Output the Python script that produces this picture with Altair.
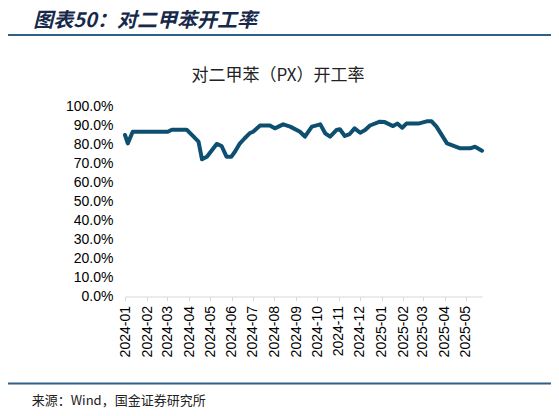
import altair as alt
import pandas as pd

# ---- data ----
dates = [
    "2024-01-01", "2024-01-05", "2024-01-12", "2024-03-02", "2024-03-08", "2024-03-29",
    "2024-04-08", "2024-04-15", "2024-04-20", "2024-04-27", "2024-05-11", "2024-05-18",
    "2024-05-25", "2024-06-01", "2024-06-06", "2024-06-13", "2024-06-20", "2024-06-27",
    "2024-07-02", "2024-07-12", "2024-07-26", "2024-08-02", "2024-08-14", "2024-08-24",
    "2024-09-07", "2024-09-14", "2024-09-24", "2024-10-06", "2024-10-13", "2024-10-20",
    "2024-10-29", "2024-11-03", "2024-11-10", "2024-11-17", "2024-11-24", "2024-12-02",
    "2024-12-09", "2024-12-16", "2024-12-30", "2025-01-06", "2025-01-18", "2025-01-24",
    "2025-01-31", "2025-02-06", "2025-02-23", "2025-03-07", "2025-03-14", "2025-03-21",
    "2025-04-05", "2025-04-24", "2025-05-08", "2025-05-15", "2025-05-25",
]
rates = [
    85.0, 80.6, 86.7, 86.7, 87.8, 87.8,
    84.1, 81.5, 72.2, 73.6, 80.3, 79.2,
    73.6, 73.6, 76.2, 80.5, 83.3, 85.9,
    86.7, 90.0, 90.0, 88.5, 90.6, 89.4,
    86.7, 84.1, 89.4, 90.6, 85.9, 84.1,
    87.6, 88.0, 84.5, 85.5, 88.5, 86.2,
    87.6, 90.0, 92.0, 91.8, 89.7, 91.0,
    88.8, 91.0, 91.0, 92.2, 92.2, 89.4,
    80.6, 78.0, 78.0, 78.8, 76.7,
]
tick_months = [(2024, m) for m in range(1, 13)] + [(2025, m) for m in range(1, 6)]
y_ticks = [0, 10, 20, 30, 40, 50, 60, 70, 80, 90, 100]
header_text = "图表50：对二甲苯开工率"
chart_title = "对二甲苯（PX）开工率"
source_text = "来源：Wind，国金证券研究所"

df = pd.DataFrame({"date": dates, "rate": rates})

W, H = 357, 190
PAD_L, PAD_T = 117, 98.5
LINE_COLOR = "#0d4f71"
RULE_COLOR = "#2f6089"

x_scale = alt.Scale(
    type="utc",
    domain=[alt.DateTime(year=2024, month=1, date=1, utc=True),
            alt.DateTime(year=2025, month=5, date=25, utc=True)],
    nice=False,
)
x_values = [alt.DateTime(year=y, month=m, date=1, hours=12, utc=True) for y, m in tick_months]

line = alt.Chart(df).mark_line(
    color=LINE_COLOR, strokeWidth=4, strokeJoin="round", strokeCap="round", clip=False
).encode(
    x=alt.X(
        "date:T",
        scale=x_scale,
        axis=alt.Axis(
            title=None,
            values=x_values,
            labelExpr="utcFormat(datum.value, '%Y') + '-' + utcFormat(datum.value, '%m')",
            labelAngle=270,
            labelFont="Arial, Liberation Sans",
            labelFontSize=14,
            labelColor="#000000",
            labelPadding=5,
            labelOverlap=False,
            labelFlush=False,
            labelBound=False,
            labelSeparation=0,
            domainColor="#d9d9d9",
            domainWidth=1,
            tickColor="#d9d9d9",
            tickSize=4,
            grid=False,
        ),
    ),
    y=alt.Y(
        "rate:Q",
        scale=alt.Scale(domain=[0, 100], nice=False),
        axis=alt.Axis(
            title=None,
            values=y_ticks,
            labelExpr="format(datum.value, '.1f') + '%'",
            labelFont="Arial, Liberation Sans",
            labelFontSize=14,
            labelColor="#000000",
            labelPadding=12,
            domain=False,
            ticks=False,
            grid=False,
        ),
    ),
)

def text_layer(txt, x, y, size, weight="normal", italic=False, align="left", color="#000000"):
    return alt.Chart(pd.DataFrame({"t": [txt]})).mark_text(
        align=align, baseline="middle", font="Noto Sans CJK SC", fontSize=size,
        fontWeight=weight, fontStyle="italic" if italic else "normal", color=color,
    ).encode(x=alt.value(x), y=alt.value(y), text="t:N")

def rule_layer(x1, x2, y):
    return alt.Chart(pd.DataFrame({"k": [0]})).mark_rule(
        color=RULE_COLOR, strokeWidth=2
    ).encode(x=alt.value(x1), x2=alt.value(x2), y=alt.value(y))

header = text_layer(header_text, 33.3 - 125, 20.5 - 106.5, 20, weight="bold", italic=True, color="#17294a")
top_rule = rule_layer(8 - 125, 551 - 125, 35 - 106.5)
title = text_layer(chart_title, 278 - 125, 76 - 106.5, 17, align="center", color="#222222")
bottom_rule = rule_layer(8 - 125, 551 - 125, 383.5 - 106.5)
source = text_layer(source_text, 31.7 - 125, 401 - 106.5, 13, color="#222222")

chart = alt.layer(line, header, top_rule, title, bottom_rule, source).properties(
    width=W,
    height=H,
    autosize=alt.AutoSizeParams(type="none"),
    padding={"left": PAD_L, "top": PAD_T, "right": 543 - PAD_L - W, "bottom": 402 - PAD_T - H},
    background="#ffffff",
).configure_view(stroke=None)

chart.save("out.html", embed_options={"renderer": "svg", "actions": False})
